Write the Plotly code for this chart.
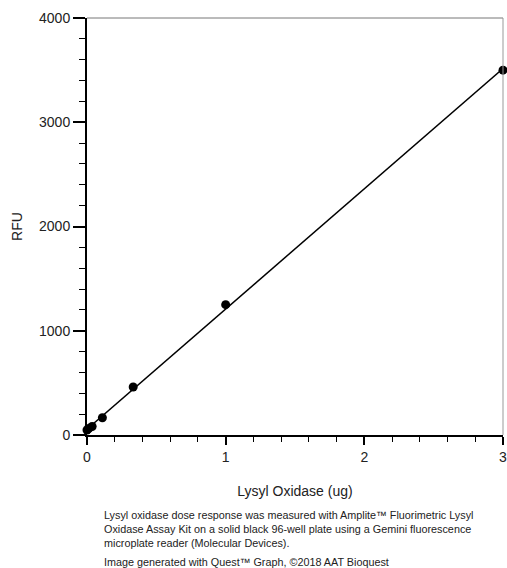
import numpy as np
import plotly.graph_objects as go

# Data
lox_ug = [0, 0.0123, 0.037, 0.111, 0.333, 1, 3]
rfu = [48, 62, 82, 165, 460, 1250, 3500]

x_ticks = [0, 1, 2, 3]
y_ticks = [0, 1000, 2000, 3000, 4000]

caption = ("Lysyl oxidase dose response was measured with Amplite™ Fluorimetric Lysyl<br>"
           "Oxidase Assay Kit on a solid black 96-well plate using a Gemini fluorescence<br>"
           "microplate reader (Molecular Devices).")
credit = "Image generated with Quest™ Graph, ©2018 AAT Bioquest"

slope, intercept = np.polyfit(lox_ug, rfu, 1)
fit_x = [0, 3]
fit_y = [intercept + slope * v for v in fit_x]

font = "Arial, Liberation Sans, sans-serif"

fig = go.Figure()
fig.add_trace(go.Scatter(x=fit_x, y=fit_y, mode="lines",
                         line=dict(color="black", width=1.5), hoverinfo="skip",
                         showlegend=False))
fig.add_trace(go.Scatter(x=lox_ug, y=rfu, mode="markers",
                         marker=dict(color="black", size=9), cliponaxis=False,
                         showlegend=False))

fig.update_layout(
    width=507, height=568,
    margin=dict(l=87, r=4, t=18, b=133, autoexpand=False),
    paper_bgcolor="white", plot_bgcolor="white",
    font=dict(family=font, size=14, color="#222"),
    xaxis=dict(range=[0, 3], tickvals=x_ticks, ticks="outside", ticklen=8,
               tickwidth=2, tickcolor="black", showline=True, linecolor="black",
               linewidth=2, showgrid=False, zeroline=False, ticklabeloverflow="allow",
               automargin=False,
               minor=dict(dtick=0.2, ticks="outside", ticklen=5, tickcolor="black", tickwidth=1),
               title=dict(text="Lysyl Oxidase (ug)", font=dict(size=14), standoff=22)),
    yaxis=dict(range=[0, 4000], tickvals=y_ticks, ticks="outside", ticklen=12,
               tickwidth=2, tickcolor="black", showline=True, linecolor="black",
               linewidth=2, showgrid=False, zeroline=False, ticklabeloverflow="allow",
               automargin=False,
               minor=dict(dtick=200, ticks="outside", ticklen=6, tickcolor="black", tickwidth=1),
               title=dict(text="RFU", font=dict(size=14), standoff=13)),
    shapes=[
        dict(type="line", xref="paper", yref="paper", x0=0, x1=1, y0=1, y1=1,
             line=dict(color="#777", width=1)),
        dict(type="line", xref="paper", yref="paper", x0=1, x1=1, y0=0, y1=1,
             line=dict(color="#999", width=1)),
    ],
    annotations=[
        dict(text=caption, xref="paper", yref="paper", x=0.036, y=-0.172,
             xanchor="left", yanchor="top", align="left", showarrow=False,
             font=dict(size=10.8, color="#222")),
        dict(text=credit, xref="paper", yref="paper", x=0.036, y=-0.286,
             xanchor="left", yanchor="top", align="left", showarrow=False,
             font=dict(size=10.8, color="#222")),
    ],
)

fig.write_html(
    "out.html",
    config={"displayModeBar": False},
    post_script="document.body.style.margin='0';document.body.style.overflow='hidden';",
)
